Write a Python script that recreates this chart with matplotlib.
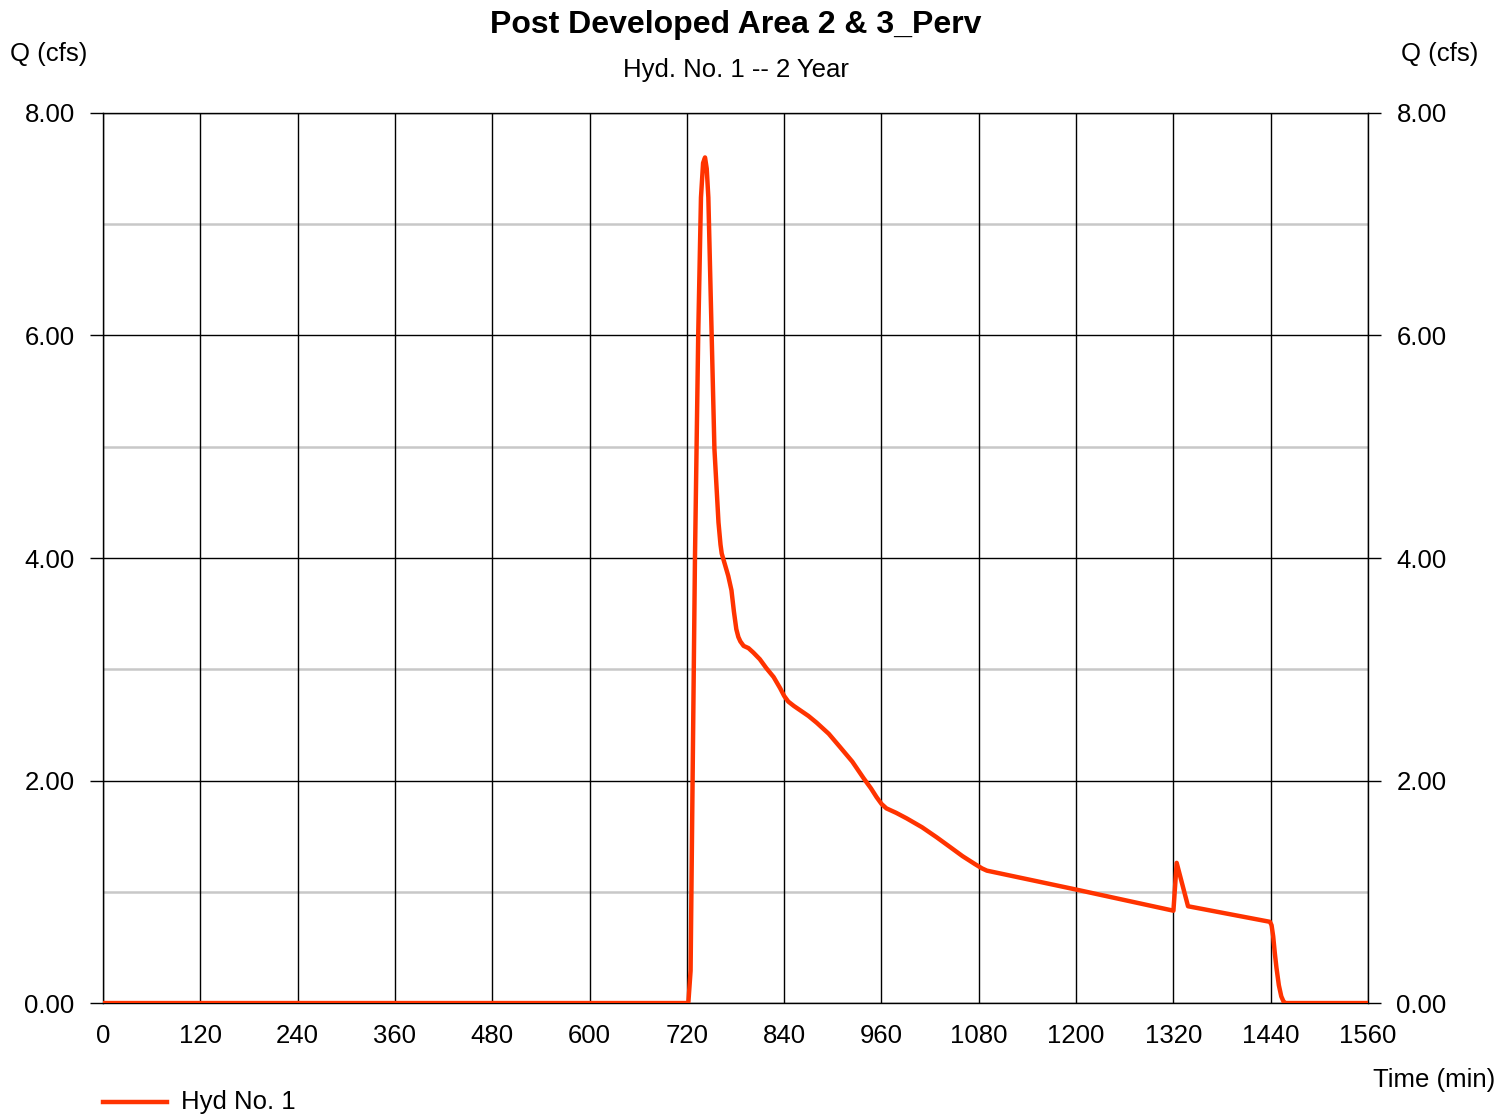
import matplotlib
matplotlib.use("Agg")
import matplotlib.pyplot as plt
import numpy as np

plt.rcParams['font.family'] = ['Liberation Sans', 'DejaVu Sans']

# Hydrograph ordinates: time (min) and flow (cfs)
time_min = [0, 721.8, 724.6, 727, 730, 734, 737.4, 740, 742.4, 744.5, 746.5, 750.6,
            754, 759, 761.5, 763, 765, 767, 771, 775, 778, 781, 783.5, 786, 790, 796,
            802, 810, 818, 827, 835, 840, 845, 852, 860, 870,
            880, 895, 909, 924, 938, 947, 954, 960, 966, 978, 991, 1010, 1028, 1045,
            1060, 1075, 1084, 1090, 1200, 1320,
            1324, 1338, 1439, 1441, 1443, 1445, 1447, 1450, 1453, 1456, 1458, 1560]
flow_cfs = [0, 0, 0.29, 1.95, 4.0, 6.0, 7.24, 7.55, 7.60, 7.50, 7.24, 6.0,
            4.98, 4.32, 4.12, 4.04, 3.99, 3.94, 3.84, 3.71, 3.52, 3.36, 3.29, 3.25, 3.21, 3.19,
            3.15, 3.09, 3.01, 2.93, 2.83, 2.76, 2.71, 2.67, 2.63, 2.58,
            2.52, 2.42, 2.30, 2.17, 2.02, 1.93, 1.85, 1.79, 1.75, 1.71, 1.66, 1.58, 1.49, 1.40,
            1.32, 1.25, 1.21, 1.19, 1.02, 0.83,
            1.26, 0.87, 0.73, 0.70, 0.60, 0.45, 0.32, 0.16, 0.06, 0.01, 0, 0]

x_ticks = [0, 120, 240, 360, 480, 600, 720, 840, 960, 1080, 1200, 1320, 1440, 1560]
y_major = [0, 2, 4, 6, 8]
y_minor = [1, 3, 5, 7]

title = "Post Developed Area 2 & 3_Perv"
subtitle = "Hyd. No. 1 -- 2 Year"
series_name = "Hyd No. 1"

fig = plt.figure(figsize=(15.12, 11.14), dpi=100)
ax = fig.add_axes([0.0681, 0.0996, 0.8367, 0.7990])

ax.set_xlim(0, 1560)
ax.set_ylim(0, 8)

# grid: light minor horizontals, black majors
for yv in y_minor:
    ax.axhline(yv, color='#c8c8c8', lw=1.8, zorder=1)
for yv in y_major:
    ax.axhline(yv, color='black', lw=1.0, zorder=1.5)
for xv in x_ticks:
    ax.axvline(xv, color='black', lw=1.0, zorder=1.5)

ax.plot(time_min, flow_cfs, color='#ff3300', lw=3.2, zorder=3,
        solid_joinstyle='round', solid_capstyle='butt')

for s in ax.spines.values():
    s.set_color('black')
    s.set_linewidth(1.0)

fs = 18.5
ax.set_xticks(x_ticks)
ax.set_xticklabels([str(v) for v in x_ticks], fontsize=fs)
ax.set_yticks(y_major)
ax.set_yticklabels([f"{v:.2f}" for v in y_major], fontsize=fs)
ax.tick_params(axis='x', length=0, pad=15)
ax.tick_params(axis='y', length=9.4, width=1.0, direction='out', pad=11,
               left=True, right=True, labelleft=True, labelright=True)

fig.text(0.4868, 0.978, title, ha='center', va='center', fontsize=23, fontweight='bold')
fig.text(0.4868, 0.9375, subtitle, ha='center', va='center', fontsize=fs)
fig.text(0.0066, 0.9515, "Q (cfs)", ha='left', va='center', fontsize=fs)
fig.text(0.978, 0.9515, "Q (cfs)", ha='right', va='center', fontsize=fs)
fig.text(0.989, 0.0305, "Time (min)", ha='right', va='center', fontsize=fs)

# legend entry below the plot
fig.add_artist(plt.Line2D([0.068, 0.1105], [0.011, 0.011], color='#ff3300', lw=3.2,
                          transform=fig.transFigure))
fig.text(0.1197, 0.011, series_name, ha='left', va='center', fontsize=fs)

fig.savefig("out.png", dpi=100, facecolor='white')
